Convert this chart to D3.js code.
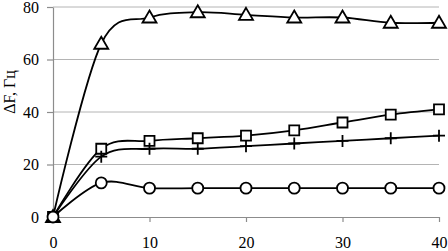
<!DOCTYPE html>
<html>
<head>
<meta charset="utf-8">
<script src="https://d3js.org/d3.v7.min.js"></script>
<style>
  body { margin: 0; background: #fff; }
</style>
</head>
<body>
<svg width="448" height="251"></svg>
<script>
// data
var xValues = [0, 5, 10, 15, 20, 25, 30, 35, 40];
var triangleSeries = [0, 66, 76, 78, 77, 76, 76, 74, 74];
var squareSeries = [0, 26, 29, 30, 31, 33, 36, 39, 41];
var plusSeries = [0, 23, 26, 26, 27, 28, 29, 30, 31];
var circleSeries = [0, 13, 11, 11, 11, 11, 11, 11, 11];
var xTicks = [0, 10, 20, 30, 40];
var yTicks = [0, 20, 40, 60, 80];
var yTitle = 'ΔF, Гц';

var fontFamily = "Liberation Serif, DejaVu Serif, serif";

var svg = d3.select('svg');
var svgWidth = +svg.attr('width');
var svgHeight = +svg.attr('height');
var padding = { t: 7, r: 9, b: 34, l: 53 };
var chartWidth = svgWidth - padding.l - padding.r;
var chartHeight = svgHeight - padding.t - padding.b;

var xScale = d3.scaleLinear().domain([0, 40]).range([0, chartWidth]);
var yScale = d3.scaleLinear().domain([0, 80]).range([chartHeight, 0]);

var chartG = svg.append('g')
    .attr('transform', `translate(${padding.l}, ${padding.t})`);

// gridlines
chartG.selectAll('.grid')
    .data(yTicks.filter(d => d > 0))
    .enter()
    .append('line')
    .attr('x1', 0)
    .attr('x2', chartWidth)
    .attr('y1', d => yScale(d))
    .attr('y2', d => yScale(d))
    .attr('stroke', '#b4b4b4')
    .attr('stroke-width', 1);

// axes
var yAxis = chartG.append('g')
    .call(d3.axisLeft(yScale).tickValues(yTicks).tickSize(6).tickPadding(8).tickSizeOuter(0));
var xAxis = chartG.append('g')
    .attr('transform', 'translate(0,' + chartHeight + ')')
    .call(d3.axisBottom(xScale).tickValues(xTicks).tickSize(5).tickPadding(15).tickSizeOuter(0));

[xAxis, yAxis].forEach(function(ax) {
    ax.attr('font-family', null).attr('font-size', null);
    ax.selectAll('path, line').attr('stroke', '#8c8c8c').attr('stroke-width', 1.2);
    ax.selectAll('text')
        .attr('fill', '#000')
        .style('font-family', fontFamily)
        .style('font-size', '16px');
});

// y title
svg.append('text')
    .attr('transform', 'translate(15, 92) rotate(-90)')
    .attr('text-anchor', 'middle')
    .style('font-family', fontFamily)
    .style('font-size', '16px')
    .text(yTitle);

var seriesList = [
    { values: triangleSeries, marker: 'triangle' },
    { values: squareSeries, marker: 'square' },
    { values: plusSeries, marker: 'plus' },
    { values: circleSeries, marker: 'circle' }
];

var line = d3.line()
    .x(d => xScale(d.x))
    .y(d => yScale(d.y))
    .curve(d3.curveCardinal.tension(0));

seriesList.forEach(function(s) {
    s.points = xValues.map((x, i) => ({ x: x, y: s.values[i] }));
    chartG.append('path')
        .datum(s.points)
        .attr('d', line)
        .attr('fill', 'none')
        .attr('stroke', '#000')
        .attr('stroke-width', 1.8);
});

function markerPath(type) {
    if (type === 'triangle') return 'M0,-7L7,5L-7,5Z';
    if (type === 'square') return 'M-5,-5H5V5H-5Z';
    if (type === 'plus') return 'M-6,0H6M0,-6V6';
    return null;
}

seriesList.forEach(function(s) {
    var g = chartG.selectAll('.m-' + s.marker)
        .data(s.points)
        .enter()
        .append('g')
        .attr('transform', d => `translate(${xScale(d.x)}, ${yScale(d.y)})`);
    if (s.marker === 'circle') {
        g.append('circle')
            .attr('r', 5.5)
            .attr('fill', '#fff')
            .attr('stroke', '#000')
            .attr('stroke-width', 1.8);
    } else {
        g.append('path')
            .attr('d', markerPath(s.marker))
            .attr('fill', s.marker === 'plus' ? 'none' : '#fff')
            .attr('stroke', '#000')
            .attr('stroke-width', 1.8);
    }
});
</script>
</body>
</html>
